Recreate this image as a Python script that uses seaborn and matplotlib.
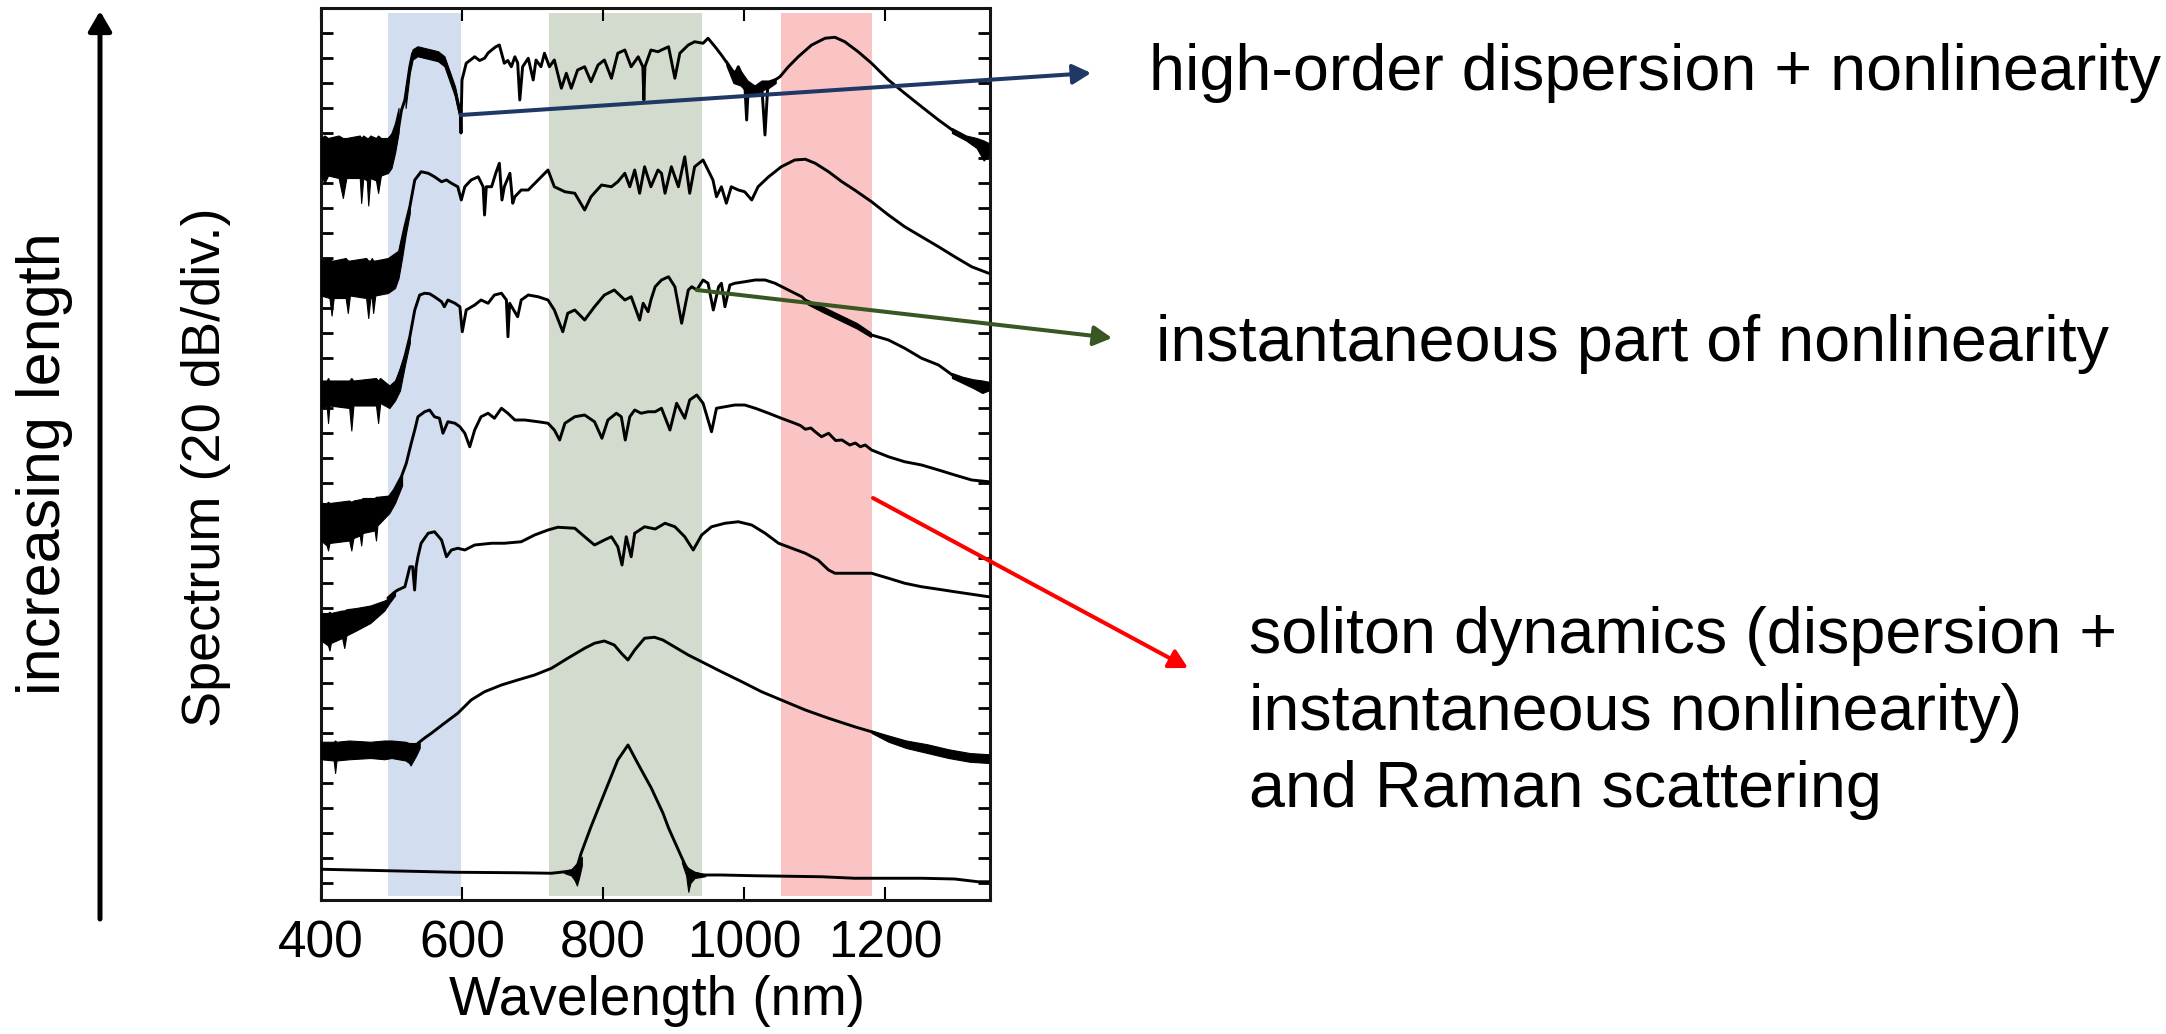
import matplotlib
matplotlib.use("Agg")
import matplotlib.pyplot as plt
import numpy as np
import pandas as pd
import seaborn as sns

# ---------------------------------------------------------------------------
# Supercontinuum spectra (dB, relative to each trace's reference level),
# listed from the longest fibre (top) to the input pulse (bottom).
# ---------------------------------------------------------------------------
spec_1 = [(497, -42), (505, -41), (509, -40), (514, -31), (519, -26.8), (526, -13.5), (530, -8.1),
          (537, -6.8), (547, -7.5), (556, -8.1), (566, -8.8), (575, -10.8), (580, -14.8), (585, -18.8),
          (590, -22.8), (594, -28.1), (598, -32.8), (598.6, -40), (599.3, -28), (600, -18.8), (606, -12.1),
          (618, -9.5), (625, -11), (632, -10.1), (637, -8), (642, -6.8), (648, -5.5), (653, -4.8),
          (660, -12.1), (665, -11), (670, -13.5), (675, -9.5), (679, -12), (682, -26.8), (686, -13.5),
          (694, -10.1), (701, -18.8), (705, -10.8), (712, -13.5), (717, -8.1), (724, -13.5), (731, -10.8),
          (741, -22.1), (748, -16.1), (755, -22.1), (764, -14.8), (774, -13.5), (783, -19.5), (793, -12.8),
          (802, -10.8), (812, -18.1), (821, -8.1), (831, -6.8), (840, -13.5), (850, -9.5), (856.5, -13.5),
          (858, -26.8), (859.5, -13.5), (868, -6.8), (878, -7.5), (883, -6.8), (893, -5.5), (902, -18.1),
          (909, -8.1), (921, -4.8), (930, -3.5), (942, -4.1), (949, -2.1), (959, -5.5), (968, -8.8),
          (978, -12.8), (985, -17.5), (992, -13.5), (1001, -19.5), (1003.8, -34.8), (1006, -22.1),
          (1016, -22.8), (1025, -20.1), (1029.8, -40.8), (1034, -20.1), (1044, -18.8), (1051, -17.5),
          (1063, -13.5), (1077, -9.5), (1096, -4.8), (1115, -2.1), (1129, -1.7), (1143, -3.5),
          (1162, -7.5), (1181, -12.1), (1205, -18.8), (1228, -24.1), (1252, -29.5), (1276, -34.8),
          (1299, -39.5), (1323, -42.8), (1347, -46.1)]

spec_2 = [(497, -41), (505, -40), (509, -40.8), (514, -34), (519, -27.5), (526, -19.5), (533, -8.8),
          (542, -5.5), (552, -6.1), (561, -7.5), (571, -9.5), (578, -8.8), (585, -10.1), (594, -11.5),
          (599, -16.8), (604, -11.5), (613, -8.8), (623, -7.5), (630, -11.5), (632, -22.8), (634.5, -11.5),
          (642, -11.5), (648, -6), (653, -2.1), (656.7, -16.8), (660, -11.5), (668, -6.1), (672, -18.1),
          (675, -15.5), (684, -12.8), (694, -12.8), (708, -8.8), (722, -4.8), (731, -11.5), (746, -13.5),
          (760, -14.1), (774, -20.8), (783, -15.5), (798, -10.8), (812, -11.5), (821, -9.5), (831, -6.1),
          (838, -11.5), (845, -4.8), (852, -14.1), (859, -3.5), (868, -11.5), (878, -4.8), (883, -6.1),
          (888, -14.1), (897, -3.5), (907, -11.5), (916, 0.5), (923, -14.1), (930, -3.5), (942, -0.8),
          (949, -4.8), (956, -8.8), (961, -15.5), (968, -11.5), (975, -18.1), (982, -11.5), (992, -12.8),
          (1001, -13.5), (1011, -16.8), (1020, -11.5), (1035, -7.5), (1053, -3.5), (1072, -0.8),
          (1087, -0.5), (1101, -2.1), (1120, -5.5), (1139, -9.5), (1157, -12.8), (1181, -17.5),
          (1205, -22.8), (1228, -27.5), (1252, -31.5), (1276, -35.5), (1299, -39.5), (1323, -43.5),
          (1347, -46.1)]

spec_3 = [(497, -42.5), (505, -38), (509, -35.8), (519, -26.5), (526, -18.5), (533, -7.8), (540, -1.8),
          (547, -1.1), (554, -1.3), (561, -2.5), (571, -4.5), (575, -6.5), (580, -3.8), (590, -5.1),
          (597, -6.5), (600.4, -16.5), (606, -7.8), (618, -5.8), (627, -3.8), (637, -5.1), (646, -1.8),
          (656, -1.1), (663, -3.8), (665.2, -18.5), (667.6, -5.1), (679, -10.5), (684, -3.8), (694, -1.8),
          (708, -2.5), (722, -3.8), (731, -7.8), (743, -16.5), (750, -9.1), (760, -7.8), (774, -11.8),
          (788, -6.5), (802, -1.8), (816, 0.2), (831, -3.8), (840, -2.5), (852, -11.8), (857, -5.1),
          (864, -8.5), (868, -3.8), (874, 1.5), (883, 4.2), (893, 5.5), (902, 1.5), (911.6, -13.1),
          (921, 0.2), (926, 1.5), (933, 0.2), (942, 4.2), (949, 2.9), (956.5, -7.8), (964, 1.5),
          (968, 2.9), (973, -6.5), (980, 2.2), (987, 2.9), (1001, 3.5), (1016, 4.2), (1030, 4.2),
          (1044, 2.9), (1063, 0.2), (1082, -2.5), (1087, -3.8), (1110, -7.1), (1134, -10.5),
          (1157, -13.8), (1181, -17.8), (1205, -19.8), (1228, -23.1), (1252, -27.1), (1276, -29.8),
          (1299, -34.5), (1323, -36.5), (1347, -37.8)]

spec_4 = [(497, -35.5), (504, -32.8), (514, -27.5), (521, -22.1), (528, -14.1), (533, -8.8), (537.5, -3.5),
          (547, -1.5), (554, -0.8), (561, -3.5), (568, -4.1), (573, -10.1), (580, -5.5), (590, -6.1),
          (597, -7.5), (604, -10.1), (611, -15.5), (618, -8.8), (627, -3.5), (637, -2.1), (646, -4.1),
          (656, -0.1), (665, -2.1), (675, -4.8), (689, -4.8), (708, -5.5), (722, -6.1), (731, -8.8),
          (738.5, -12.8), (746, -6.1), (760, -3.5), (774, -2.8), (788, -5.5), (798.5, -12.1), (807, -4.8),
          (819, -2.1), (826, -3.5), (831.6, -12.8), (838, -3.5), (845, -0.8), (854, -2.1), (864, -1.5),
          (874, -1.5), (883, -0.1), (895, -8.8), (904.5, 1.9), (916, -4.1), (923, 3.2), (933, 5.2),
          (942, 1.9), (954, -9.5), (961, -0.1), (973, 0.5), (987, 1.2), (1001, 1.2), (1016, -0.1),
          (1035, -2.1), (1053, -4.1), (1072, -6.1), (1080, -7), (1087, -8.5), (1095, -8), (1101, -9.5),
          (1110, -11.5), (1120, -10.1), (1130, -13), (1139, -12.8), (1150, -14.8), (1158, -14),
          (1165, -15.5), (1172, -14.8), (1181, -16.8), (1205, -19.5), (1228, -21.5), (1252, -22.8),
          (1276, -24.8), (1299, -26.8), (1323, -28.8), (1347, -29.5)]

spec_5 = [(495, -31), (505, -28.5), (509, -27.8), (519, -26.5), (523, -22), (526, -18.5), (530, -18.5),
          (532.8, -27.8), (535, -18.5), (537.5, -14.5), (542, -9.1), (552, -5.1), (561, -4.5), (571, -7.8),
          (578, -14.5), (585, -11.8), (594, -11.1), (604, -11.8), (618, -9.8), (642, -9.1), (660, -9.1),
          (684, -8.5), (703, -5.8), (722, -3.8), (736, -2.7), (760, -3.1), (774, -6.5), (788, -9.8),
          (802, -7.8), (812, -6.5), (821, -10.5), (827, -17.8), (833, -6.5), (840, -14.5), (845, -5.1),
          (859, -2.5), (874, -3.4), (888, -1.1), (902, -2.5), (916, -6.5), (928, -11.8), (940, -5.8),
          (954, -2.5), (973, -1.1), (992, -0.5), (1011, -1.8), (1030, -5.1), (1049, -9.1), (1068, -11.1),
          (1087, -13.1), (1105, -15.8), (1120, -19.8), (1129, -21.1), (1157, -21.1), (1181, -21.1),
          (1205, -23.1), (1228, -25.1), (1252, -26.5), (1276, -27.5), (1299, -28.5), (1323, -29.5),
          (1347, -30.5)]

spec_6 = [(537.5, -42.1), (547, -40), (556.5, -38.1), (575, -34.1), (594, -30.1), (613, -24.8), (632, -21.5),
          (656, -18.8), (679, -16.8), (703, -14.8), (727, -12.1), (750, -8.1), (774, -4.1), (788, -2.1),
          (802, -1.2), (816, -2.8), (826, -6.1), (835.4, -8.8), (845, -4.8), (859, -0.1), (873, 0.3),
          (885, -0.8), (897, -2.8), (921, -6.8), (940, -9.5), (968, -13.5), (997, -17.5), (1025, -21.5),
          (1053, -24.8), (1087, -28.8), (1120, -32.1), (1157, -35.5), (1181, -37.5), (1205, -40.1),
          (1228, -42.1), (1252, -43.5), (1276, -45.5), (1299, -46.1), (1323, -47.5), (1347, -48.1)]

spec_7 = [(400, -49.5), (495, -50.1), (590, -50.7), (679, -50.9), (727, -51.1), (746, -50.5), (762, -49.8),
          (769, -43.1), (783, -32.5), (802, -19.1), (821, -5.8), (835.5, 0.2), (850, -7.5), (868.5, -17),
          (885, -27), (893, -33), (912, -45), (921, -50.5), (940, -51.8), (968, -51.8), (1016, -52.1),
          (1063, -52.3), (1110, -52.5), (1157, -53.1), (1205, -53.1), (1252, -53.1), (1299, -53.4),
          (1332, -54.5), (1347, -54.5)]

# Noise floor / noisy stretches as (wavelength, lower, upper) envelopes
noise_1 = [
    [(400, -57, -42), (405, -60, -41), (410, -57, -42), (425, -58, -41), (431, -66, -42), (436, -58, -42),
     (455, -58, -41), (457, -68, -42), (460, -58, -41), (465, -59, -42), (467, -69, -42), (470, -58, -41),
     (478, -59, -42), (481, -64, -41), (485, -57, -42), (495, -56, -42), (500, -54, -40), (505, -48, -36),
     (510, -40, -30)],
    [(520, -30, -22), (526, -16, -11.5), (530, -10.6, -6.5), (537, -9.3, -5.3), (547, -10, -6),
     (556, -10.6, -6.6), (566, -11.3, -7.3), (575, -13.3, -9.3), (580, -17.3, -13.3), (585, -21.3, -17.3),
     (590, -25.3, -21.3), (594, -30.6, -26.6), (598, -35.3, -31.3)],
    [(975, -13, -11), (985, -20, -15), (995, -21, -15), (1005, -24, -19), (1015, -25, -21),
     (1025, -23, -19), (1035, -22, -19), (1045, -20, -18)],
    [(1295, -40, -38), (1315, -43, -41), (1330, -46, -42), (1340, -51, -43), (1347, -49, -44)],
]
noise_2 = [
    [(400, -55, -41), (412, -56, -40), (415, -63, -41), (418, -56, -41), (435, -56, -40), (438, -62, -41),
     (441, -55, -41), (464, -56, -40), (467, -64, -41), (470, -56, -41), (472, -56, -40), (474, -62, -41),
     (477, -55, -41), (495, -54, -40), (505, -52, -38), (510, -48, -37), (515, -40, -31), (520, -31, -25),
     (526, -22, -18)],
]
noise_3 = [
    [(400, -47, -36), (408, -46, -36), (410, -53, -35), (412, -46, -36), (440, -47, -36), (443, -56, -35),
     (446, -46, -36), (478, -46, -35), (481, -53, -36), (484, -45, -35), (497, -47, -38), (505, -44, -36),
     (512, -40, -31), (519, -30, -25), (526, -21, -17)],
    [(1090, -5.5, -3.8), (1110, -8.4, -6.2), (1135, -11.8, -9.6), (1160, -15.2, -13), (1180, -18.6, -16.8)],
    [(1295, -35, -33), (1310, -37, -34.5), (1325, -39, -35.5), (1338, -41, -36), (1347, -40, -36.5)],
]
noise_4 = [
    [(400, -53, -38), (408, -55, -38), (410, -57, -37.5), (412, -54, -38), (440, -53, -37), (443, -57, -37.5),
     (446, -52, -37), (455, -51, -36.5), (457, -55, -36.5), (459, -50, -36), (476, -49, -36),
     (478, -53, -35.5), (480, -47, -35.5), (497, -42, -35), (505, -38, -33), (515, -31, -27)],
]
noise_5 = [
    [(400, -48, -37), (410, -50, -37), (412, -52, -36.5), (414, -49, -37), (430, -47, -36), (433, -51, -36),
     (436, -46, -35.5), (450, -44, -35), (470, -41, -34), (490, -36, -32), (497, -33, -31), (505, -30, -28.5)],
]
noise_6 = [
    [(400, -48.5, -41.5), (418, -49, -41.5), (420, -54, -41), (422, -49, -41.5), (440, -48.5, -41),
     (470, -48, -41.5), (490, -48.5, -41), (500, -48, -41), (520, -49, -41.5), (525, -50, -42),
     (527, -51, -42), (535, -47, -42), (540, -44, -41)],
    [(1181, -38, -37), (1205, -41.5, -39), (1230, -44, -41), (1260, -46, -42.5), (1290, -48, -44.5),
     (1320, -49.5, -46), (1347, -50, -46.5)],
]
noise_7 = [
    [(745, -51, -50.5), (755, -52, -49.5), (760, -54, -48), (763, -56, -47), (766, -53, -46), (770, -48, -44.5)],
    [(912, -47, -46), (918, -52, -48), (921, -58.5, -49), (924, -55, -49.5), (930, -53, -50.5), (945, -52.3, -51.5)],
]

spectra = [spec_1, spec_2, spec_3, spec_4, spec_5, spec_6, spec_7]
noise_sets = [noise_1, noise_2, noise_3, noise_4, noise_5, noise_6, noise_7]
trace_offsets = [340, 290, 237, 190, 145, 98, 55]   # stacking offsets (dB)

# Highlighted spectral regions (nm)
band_edges = [(495, 598), (723, 941), (1052, 1181)]
band_colors = ["#D3DDF0", "#D3DACE", "#FBC4C4"]

x_ticks = [400, 600, 800, 1000, 1200]

annotations = ["high-order dispersion + nonlinearity",
               "instantaneous part of nonlinearity",
               "soliton dynamics (dispersion +\ninstantaneous nonlinearity)\nand Raman scattering"]
arrow_colors = ["#203864", "#385723", "#FF0000"]

# ---------------------------------------------------------------------------
sns.set_theme(style="white")
plt.rcParams["font.family"] = ["Liberation Sans", "DejaVu Sans"]
plt.rcParams["text.color"] = "black"
plt.rcParams["xtick.color"] = "black"
plt.rcParams["ytick.color"] = "black"

W, H = 2166, 1034
fig = plt.figure(figsize=(W / 100, H / 100), dpi=100)


def fpos(x, y):
    """pixel position (from top-left) -> figure fraction"""
    return (x / W, 1 - y / H)


ax = fig.add_axes([321 / W, 1 - 900 / H, (990 - 321) / W, (900 - 8) / H])
ax.set_xlim(400, 1349)
ax.set_ylim(-6.8, 350)

for (lo, hi), c in zip(band_edges, band_colors):
    ax.axvspan(lo, hi, ymin=0.004, ymax=0.994, color=c, lw=0, zorder=0)

rows = []
for k, (spec, off) in enumerate(zip(spectra, trace_offsets)):
    for wl, db in spec:
        rows.append({"trace": k, "wl": wl, "level": db + off})
df = pd.DataFrame(rows)

sns.lineplot(data=df, x="wl", y="level", units="trace", estimator=None, sort=False,
             color="black", lw=2.1, ax=ax, legend=False, zorder=3)

for nset, off in zip(noise_sets, trace_offsets):
    for seg in nset:
        seg = np.array(seg, dtype=float)
        ax.fill_between(seg[:, 0], seg[:, 1] + off, seg[:, 2] + off,
                        color="black", lw=0.8, zorder=3)

ax.set_xticks(x_ticks)
ax.set_yticks(np.arange(0, 341, 10))
ax.tick_params(axis="x", direction="in", length=9.5, width=1.5, top=True, bottom=True,
               labelsize=37, pad=14, colors="black")
ax.tick_params(axis="y", direction="in", length=8.5, width=2.0, left=True, right=True,
               labelleft=False)
for sp in ax.spines.values():
    sp.set_linewidth(2.2)
    sp.set_color("#151515")
ax.set_xlabel("")
ax.set_ylabel("")

fig.text(*fpos(657, 1015), "Wavelength (nm)", fontsize=39.5, ha="center", va="baseline")
fig.text(*fpos(206, 467), "Spectrum (20 dB/div.)", fontsize=39, rotation=90,
         ha="center", va="center")
fig.text(*fpos(45, 464), "increasing length", fontsize=44, rotation=90,
         ha="center", va="center")

# Side annotations (one text per line so each baseline sits where intended)
note_size = 46.5
fig.text(*fpos(1149, 90), annotations[0], fontsize=note_size, ha="left", va="baseline")
fig.text(*fpos(1156, 361), annotations[1], fontsize=note_size, ha="left", va="baseline")
for line, base in zip(annotations[2].split("\n"), [653, 730, 807]):
    fig.text(*fpos(1249, base), line, fontsize=note_size, ha="left", va="baseline")

arrow_kw = dict(arrowstyle="-|>,head_length=0.55,head_width=0.3", mutation_scale=20,
                shrinkA=0, shrinkB=0)
# arrows from spectral features to the explanations
ax.annotate("", xy=fpos(1091, 73), xycoords="figure fraction",
            xytext=(598, trace_offsets[0] - 32.8), textcoords="data",
            arrowprops=dict(color=arrow_colors[0], lw=2.9, **arrow_kw), annotation_clip=False)
ax.annotate("", xy=fpos(1112, 338), xycoords="figure fraction",
            xytext=(933, trace_offsets[2] + 0.2), textcoords="data",
            arrowprops=dict(color=arrow_colors[1], lw=2.9, **arrow_kw), annotation_clip=False)
ax.annotate("", xy=fpos(1188, 668), xycoords="figure fraction",
            xytext=fpos(873, 498), textcoords="figure fraction",
            arrowprops=dict(color=arrow_colors[2], lw=2.9, **arrow_kw), annotation_clip=False)
# propagation-length arrow
ax.annotate("", xy=fpos(100, 11), xycoords="figure fraction",
            xytext=fpos(100, 919), textcoords="figure fraction",
            arrowprops=dict(color="black", lw=3.6,
                            arrowstyle="-|>,head_length=0.6,head_width=0.35",
                            mutation_scale=20, shrinkA=0, shrinkB=0),
            annotation_clip=False)

fig.savefig("out.png", dpi=100, facecolor="white")
